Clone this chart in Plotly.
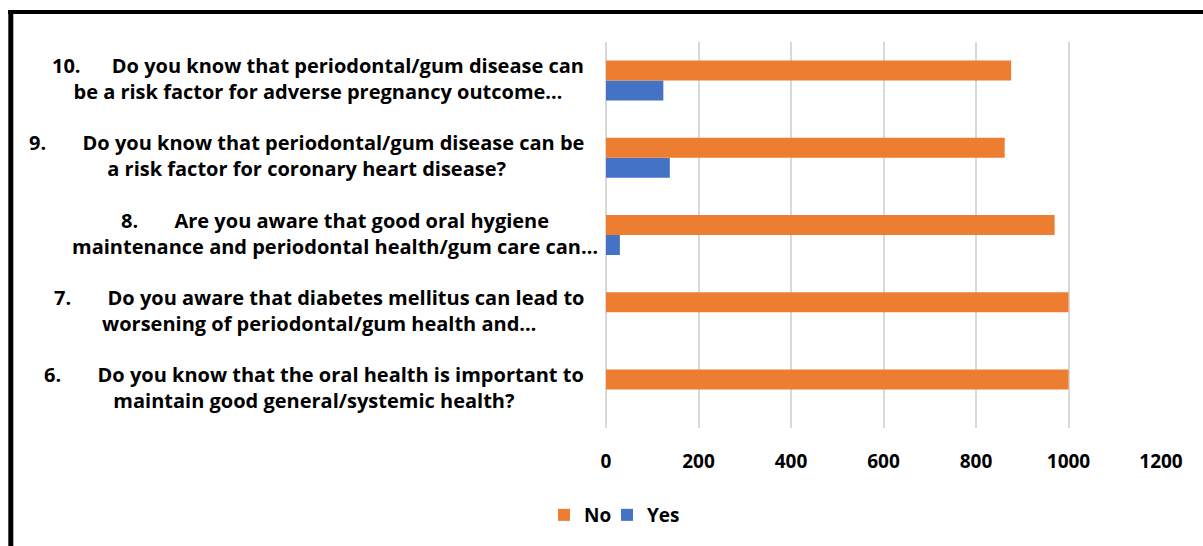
import plotly.graph_objects as go

NB = "\u00a0"

categories = ["6", "7", "8", "9", "10"]
label_lines = [
    ["6." + NB * 7 + "Do you know that the oral health is important to", "maintain good general/systemic health?"],
    ["7." + NB * 7 + "Do you aware that diabetes mellitus can lead to", "worsening of periodontal/gum health and…"],
    ["8." + NB * 7 + "Are you aware that good oral hygiene", "maintenance and periodontal health/gum care can…"],
    ["9." + NB * 7 + "Do you know that periodontal/gum disease can be", "a risk factor for coronary heart disease?"],
    ["10." + NB * 6 + "Do you know that periodontal/gum disease can", "be a risk factor for adverse pregnancy outcome…"],
]
no_values = [1000, 1000, 970, 862, 876]
yes_values = [0, 0, 30, 138, 124]
x_ticks = [0, 200, 400, 600, 800, 1000, 1200]

ORANGE = "#ED7D31"
BLUE = "#4472C4"
FONT = "Open Sans"

W, H = 1203, 546
L, R, T, B = 606, 1161, 42, 428

def px_x(p):
    return (p - L) / (R - L)

def px_y(p):
    return (B - p) / (B - T)

fig = go.Figure()
fig.add_trace(go.Bar(y=categories, x=yes_values, orientation="h", name="<b>Yes</b>",
                     marker=dict(color=BLUE, line=dict(width=0)), legend="legend2"))
fig.add_trace(go.Bar(y=categories, x=no_values, orientation="h", name="<b>No</b>",
                     marker=dict(color=ORANGE, line=dict(width=0)), legend="legend"))

label_xshift = {2: -6}
annotations = []
for i, lines in enumerate(label_lines):
    annotations.append(dict(
        xref="paper", yref="paper", x=0, y=(i + 0.5) / len(categories),
        xanchor="right", yanchor="middle",
        xshift=label_xshift.get(i, -20), yshift=2, align="center", showarrow=False,
        text="<b>" + "<br>".join(lines) + "</b>",
        font=dict(family=FONT, size=20, color="#000000"),
    ))

shapes = [
    dict(type="line", xref="paper", yref="paper", x0=px_x(10.8), x1=px_x(10.8),
         y0=px_y(10), y1=px_y(560), line=dict(color="#000000", width=5)),
    dict(type="line", xref="paper", yref="paper", x0=px_x(8), x1=px_x(1210),
         y0=px_y(12), y1=px_y(12), line=dict(color="#000000", width=4)),
]

legend_common = dict(orientation="h", xref="paper", yref="paper", xanchor="left",
                     yanchor="middle", y=px_y(515), itemwidth=30,
                     font=dict(family=FONT, size=19, color="#000000"),
                     bgcolor="rgba(0,0,0,0)")

fig.update_layout(
    width=W, height=H,
    margin=dict(l=L, r=W - R, t=T, b=H - B, pad=0),
    paper_bgcolor="white", plot_bgcolor="white",
    barmode="group", bargap=0.482, bargroupgap=0,
    font=dict(family=FONT, size=19, color="#000000"),
    xaxis=dict(range=[0, 1200], tickvals=x_ticks,
               ticktext=["<b>%d</b>" % v for v in x_ticks],
               showgrid=True, gridcolor="#D9D9D9", gridwidth=1.5,
               zeroline=True, zerolinecolor="#D9D9D9", zerolinewidth=1.5,
               showline=False, ticks="",
               ticklabelstandoff=20,
               tickfont=dict(family=FONT, size=19, color="#000000"),
               fixedrange=True),
    yaxis=dict(type="category", range=[-0.5, 4.5], showticklabels=False,
               showgrid=False, zeroline=False, showline=False, ticks="",
               fixedrange=True),
    legend=dict(x=px_x(544), **legend_common),
    legend2=dict(x=px_x(607), **legend_common),
    annotations=annotations,
    shapes=shapes,
    showlegend=True,
)

fig.write_html("out.html")
